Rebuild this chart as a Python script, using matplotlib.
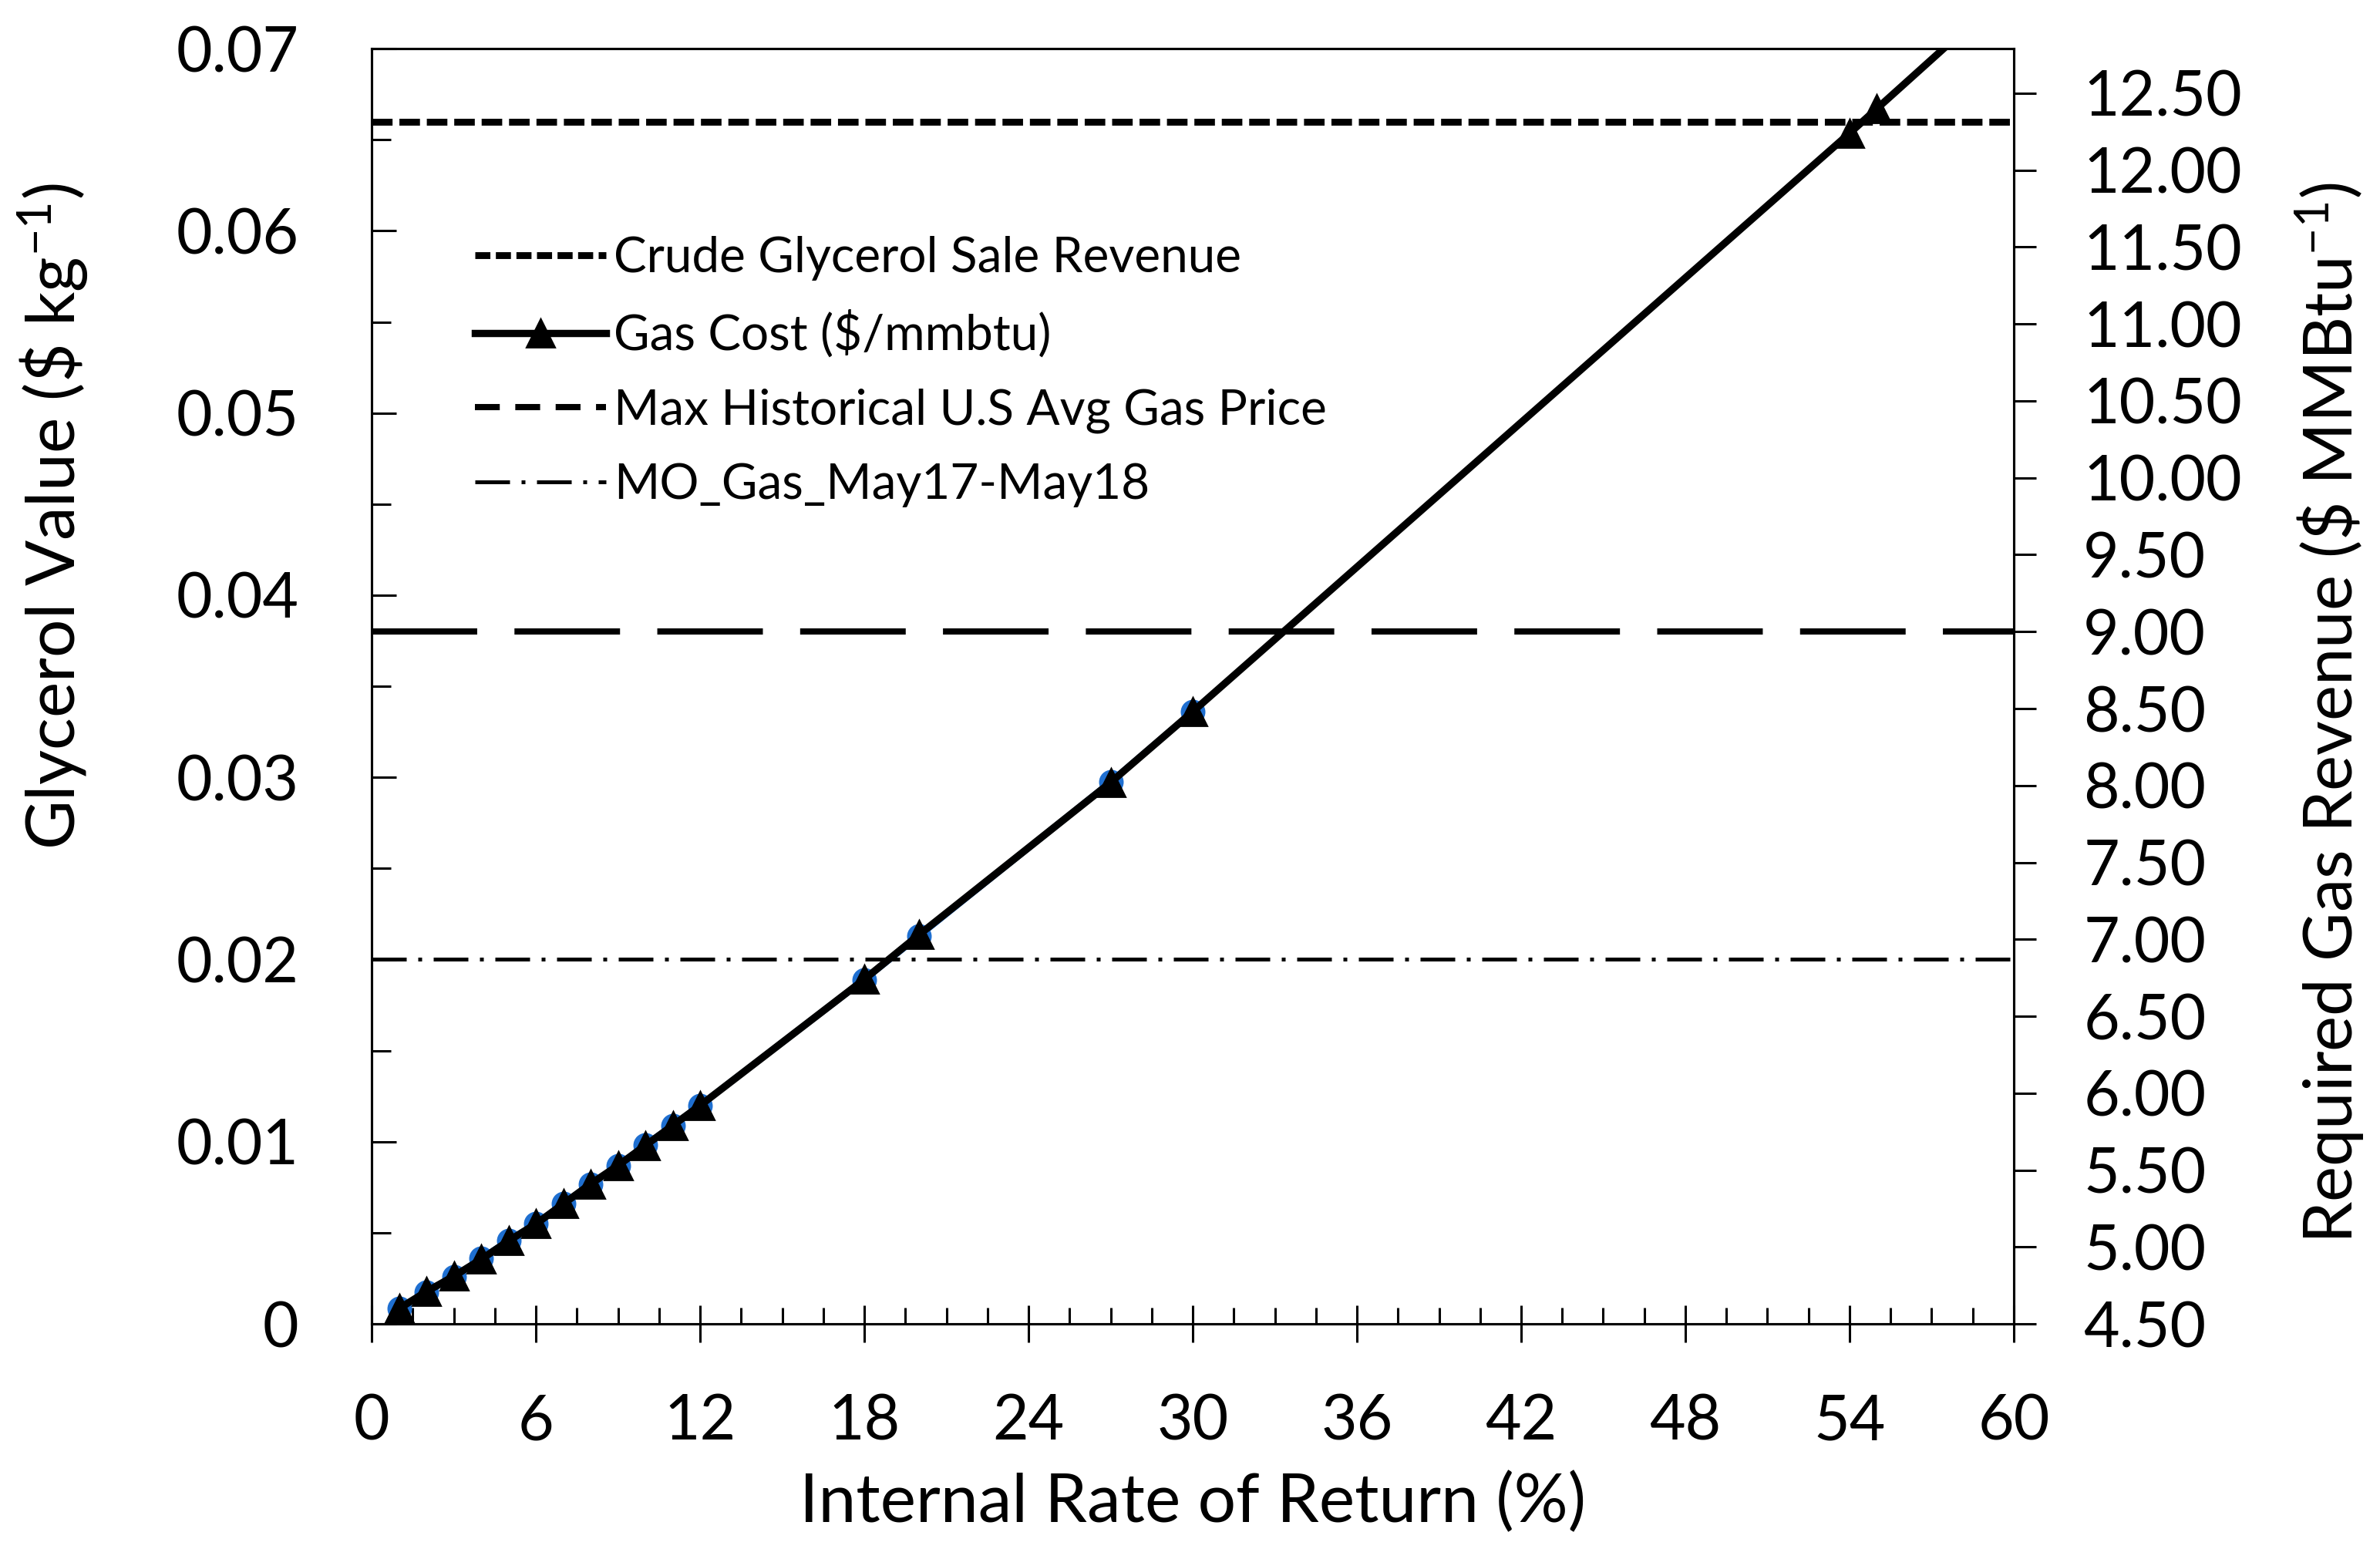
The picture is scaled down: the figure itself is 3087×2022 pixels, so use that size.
import matplotlib
matplotlib.use("Agg")
import matplotlib.pyplot as plt
from matplotlib.lines import Line2D
from matplotlib.ticker import MultipleLocator, FuncFormatter, FormatStrFormatter

plt.rcParams['font.family'] = ['Lato', 'DejaVu Sans']
plt.rcParams['mathtext.fontset'] = 'custom'
plt.rcParams['mathtext.rm'] = 'Lato'
plt.rcParams['mathtext.default'] = 'regular'

# Internal rate of return (%)
irr = [1, 2, 3, 4, 5, 6, 7, 8, 9, 10, 11, 12, 18, 20, 27, 30]
# glycerol value, $/kg (left axis)
glycerol_value = [0.00083, 0.00175, 0.00258, 0.00358, 0.00458, 0.0055, 0.0066, 0.00767,
                  0.00867, 0.00983, 0.0109, 0.0120, 0.0189, 0.0213, 0.02975, 0.0336]

# required gas price, $/MMBtu (right axis)
irr_gas = [1, 2, 3, 4, 5, 6, 7, 8, 9, 10, 11, 12, 18, 20, 27, 30, 54, 55, 60]
gas_cost = [4.60, 4.71, 4.81, 4.92, 5.04, 5.15, 5.28, 5.41, 5.53, 5.66, 5.79, 5.92,
            6.74, 7.03, 8.02, 8.48, 12.24, 12.40, 13.20]

crude_glycerol_revenue = 0.066   # $/kg
max_hist_gas_price = 9.00        # $/MMBtu
mo_gas_price = 6.87              # $/MMBtu

fig = plt.figure(figsize=(15.435, 10.11), dpi=200)
ax = fig.add_axes([0.1562, 0.1508, 0.6899, 0.8180])
ax2 = ax.twinx()

# left axis series (mostly hidden under the gas line)
ax.plot(irr, glycerol_value, color='#1f6fd0', lw=3.0, marker='o', ms=10.5, zorder=2)
ax.axhline(crude_glycerol_revenue, color='black', lw=3.2, ls=(0, (3, 1)), zorder=1)

ax2.plot(irr_gas, gas_cost, color='black', lw=3.4, marker='^', ms=13, zorder=3)
ax2.axhline(max_hist_gas_price, color='black', lw=2.9, ls=(0, (17, 6)), zorder=1)
ax2.axhline(mo_gas_price, color='black', lw=1.8, ls=(0, (9, 3, 1, 3)), zorder=1)

ax.set_xlim(0, 60)
ax.set_ylim(0, 0.07)
ax2.set_ylim(4.5, 12.79)

ax.xaxis.set_major_locator(MultipleLocator(6))
ax.xaxis.set_minor_locator(MultipleLocator(1.5))
ax.yaxis.set_major_locator(MultipleLocator(0.01))
ax.yaxis.set_minor_locator(MultipleLocator(0.005))
ax.yaxis.set_major_formatter(FuncFormatter(lambda v, p: '0' if abs(v) < 1e-9 else f'{v:.2f}'))
ax2.yaxis.set_major_locator(MultipleLocator(0.5))
ax2.yaxis.set_major_formatter(FormatStrFormatter('%.2f'))

ax.tick_params(axis='x', which='major', direction='inout', length=17, width=1.1,
               labelsize=29, pad=24, top=False)
ax.tick_params(axis='x', which='minor', direction='in', length=7.5, width=1.1, top=False)
ax.tick_params(axis='y', which='major', direction='in', length=11.5, width=1.1,
               labelsize=29, pad=34, right=False)
ax.tick_params(axis='y', which='minor', direction='in', length=9, width=1.1, right=False)
ax2.tick_params(axis='y', which='major', direction='out', length=10.5, width=1.1,
                labelsize=29, pad=22)

for a in (ax, ax2):
    for s in a.spines.values():
        s.set_linewidth(1.1)

ax.set_xlabel('Internal Rate of Return (%)', fontsize=31.5, va='center')
ax.xaxis.set_label_coords(0.5, -0.1403)
ax.set_ylabel('Glycerol Value (\\$ kg$^{-1}$)', fontsize=31.5, va='center')
ax.yaxis.set_label_coords(-0.194, 0.633)
ax2.set_ylabel('Required Gas Revenue (\\$ MMBtu$^{-1}$)', fontsize=31.3, va='center')
ax2.yaxis.set_label_coords(1.1925, 0.479)

handles = [
    Line2D([], [], color='black', lw=3.2, ls=(0, (2.2, 0.8))),
    Line2D([], [], color='black', lw=3.4, marker='^', ms=13),
    Line2D([], [], color='black', lw=2.9, ls=(0, (4, 2.5))),
    Line2D([], [], color='black', lw=1.8, ls=(0, (9, 3, 1, 3))),
]
labels = ['Crude Glycerol Sale Revenue', 'Gas Cost (\\$/mmbtu)',
          'Max Historical U.S Avg Gas Price', 'MO_Gas_May17-May18']
ax2.legend(handles, labels, loc='upper left', bbox_to_anchor=(0.063, 0.853),
           frameon=False, fontsize=23, handlelength=2.65, handletextpad=0.16,
           labelspacing=0.6, borderpad=0, borderaxespad=0)

fig.savefig('out.png', dpi=200, facecolor='white')
